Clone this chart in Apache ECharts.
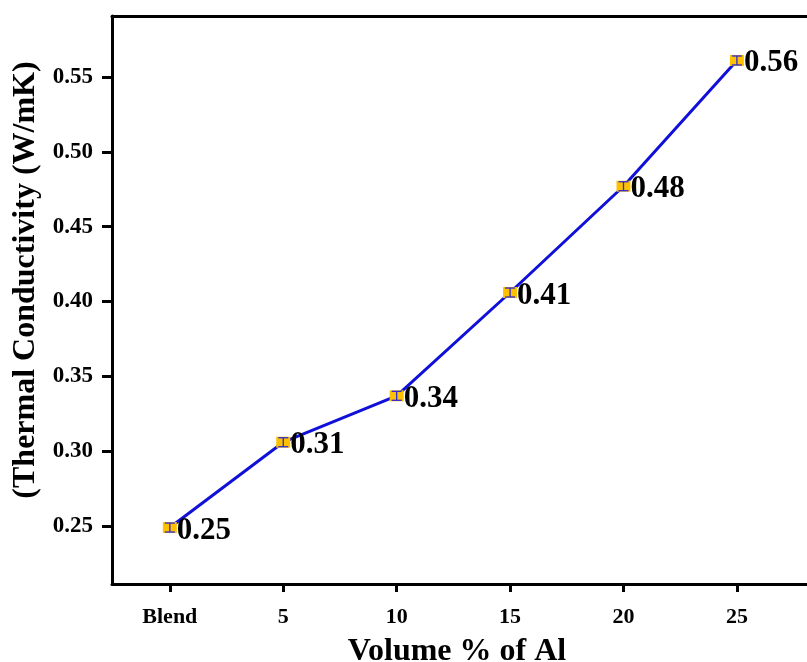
<!DOCTYPE html>
<html><head><meta charset="utf-8">
<script src="https://cdn.jsdelivr.net/npm/echarts@6/dist/echarts.min.js"></script>
<style>html,body{margin:0;padding:0;background:#fff}#c{width:807px;height:662px}</style>
</head><body><div id="c"></div>
<script>
const categories = ['Blend', '5', '10', '15', '20', '25'];
const conductivity = [0.249, 0.306, 0.337, 0.406, 0.477, 0.561];
const errors = [0.003, 0.003, 0.003, 0.003, 0.003, 0.003];
const yTicks = [0.25, 0.30, 0.35, 0.40, 0.45, 0.50, 0.55];
const xName = 'Volume % of Al';
const yName = '(Thermal Conductivity (W/mK)';

const idx = categories.map((c, i) => i);
const lineData = conductivity.map((v, i) => [i, v]);
const errData = conductivity.map((v, i) => [i, v - errors[i], v + errors[i]]);
const font = '"Liberation Serif", "Times New Roman", serif';

const chart = echarts.init(document.getElementById('c'));
chart.setOption({
  animation: false,
  backgroundColor: '#fff',
  grid: { left: 112, top: 16, width: 761, height: 568, outerBoundsMode: 'none', containLabel: false },
  title: [
    { text: xName, left: 452, top: 631, textAlign: 'center',
      textStyle: { fontFamily: font, fontWeight: 'bold', fontSize: 32, color: '#000' } }
  ],
  graphic: [
    { type: 'text', x: 26, y: 280, rotation: Math.PI / 2,
      style: { text: yName, fontFamily: font, fontWeight: 'bold', fontSize: 32, fill: '#000',
        align: 'center', verticalAlign: 'middle' } }
  ],
  xAxis: [{
    type: 'value', min: -0.51, max: 6.2,
    axisLine: { show: true, onZero: false, lineStyle: { color: '#000', width: 3 } },
    splitLine: { show: false },
    axisTick: { show: true, customValues: idx, length: 8, lineStyle: { color: '#000', width: 3 } },
    axisLabel: { customValues: idx, margin: 22, formatter: v => categories[Math.round(v)],
      fontFamily: font, fontWeight: 'bold', fontSize: 22, color: '#000' }
  }, {
    type: 'value', position: 'top', min: -0.51, max: 6.2,
    axisLine: { show: true, lineStyle: { color: '#000', width: 3 } },
    axisTick: { show: false }, axisLabel: { show: false }, splitLine: { show: false }
  }],
  yAxis: {
    type: 'value', min: 0.2113, max: 0.5907,
    axisLine: { show: true, onZero: false, lineStyle: { color: '#000', width: 3 } },
    splitLine: { show: false },
    axisTick: { show: true, customValues: yTicks, length: 10, lineStyle: { color: '#000', width: 3 } },
    axisLabel: { customValues: yTicks, margin: 19, formatter: v => v.toFixed(2),
      fontFamily: font, fontWeight: 'bold', fontSize: 23, color: '#000' }
  },
  series: [{
    type: 'line', data: lineData, xAxisIndex: 0,
    lineStyle: { color: '#1010d8', width: 3 },
    symbol: 'rect', symbolSize: [14, 11],
    itemStyle: { color: '#ffc000', borderWidth: 0 },
    label: { show: true, position: 'right', distance: 0, offset: [0, 3],
      formatter: p => p.value[1].toFixed(2),
      fontFamily: font, fontWeight: 'bold', fontSize: 31, color: '#000' },
    z: 3
  }, {
    type: 'custom', data: errData, xAxisIndex: 0, z: 4,
    renderItem: (params, api) => {
      const x = api.value(0);
      const lo = api.coord([x, api.value(1)]);
      const hi = api.coord([x, api.value(2)]);
      const w = 5;
      const st = { stroke: '#2a2ad8', lineWidth: 1.3 };
      return { type: 'group', children: [
        { type: 'line', shape: { x1: lo[0], y1: lo[1], x2: hi[0], y2: hi[1] }, style: st },
        { type: 'line', shape: { x1: lo[0] - w, y1: lo[1], x2: lo[0] + w, y2: lo[1] }, style: st },
        { type: 'line', shape: { x1: hi[0] - w, y1: hi[1], x2: hi[0] + w, y2: hi[1] }, style: st }
      ]};
    }
  }]
});
</script></body></html>
